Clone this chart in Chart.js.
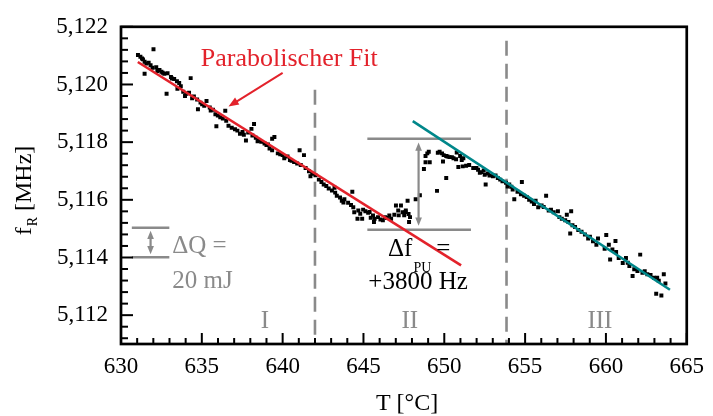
<!DOCTYPE html>
<html>
<head>
<meta charset="utf-8">
<script src="https://cdn.jsdelivr.net/npm/chart.js@4.4.1/dist/chart.umd.min.js"></script>
<style>
  html, body { margin: 0; padding: 0; background: #fff; }
</style>
</head>
<body>
<canvas id="resChart" width="713" height="416"></canvas>
<script>
// axis ticks
const xTicks = [630, 635, 640, 645, 650, 655, 660, 665];
const yTicks = [5.112, 5.114, 5.116, 5.118, 5.120, 5.122];

// measured points, region I (T < 642 °C)
const T1 = [631.20, 631.36, 631.46, 631.57, 631.71, 632.01, 631.46, 631.83, 632.18, 632.38,
  632.58, 632.68, 632.88, 633.09, 633.29, 633.46, 633.60, 634.31, 632.82, 633.49,
  633.70, 633.96, 634.21, 634.51, 634.71, 634.92, 634.76, 635.02, 635.29, 635.49,
  635.69, 635.84, 635.99, 635.90, 636.14, 636.45, 636.51, 636.65, 637.20, 637.36,
  637.52, 637.73, 637.87, 638.07, 638.23, 638.13, 638.34, 638.54, 638.68, 638.88,
  639.09, 639.35, 639.49, 639.19, 639.35, 639.70, 640.00, 640.10, 640.30, 640.45,
  640.71, 641.05, 641.32, 641.12, 641.42, 641.63, 641.83, 641.72,
  631.05, 631.30, 631.95, 632.25, 632.50, 633.15, 633.85, 634.05, 634.40, 635.15,
  635.55, 636.30, 636.85, 637.05, 637.60, 638.45, 639.00, 639.85, 640.55, 640.90];
const F1 = [5.12096, 5.12087, 5.12079, 5.12073, 5.12075, 5.12122, 5.12037, 5.12067, 5.12060, 5.12050,
  5.12041, 5.12037, 5.12039, 5.12026, 5.12019, 5.12011, 5.12005, 5.12022, 5.11968, 5.11985,
  5.11994, 5.11960, 5.11971, 5.11958, 5.11948, 5.11937, 5.11914, 5.11931, 5.11943, 5.11920,
  5.11912, 5.11897, 5.11892, 5.11855, 5.11886, 5.11909, 5.11874, 5.11857, 5.11840, 5.11829,
  5.11835, 5.11806, 5.11833, 5.11846, 5.11863, 5.11823, 5.11815, 5.11806, 5.11801, 5.11795,
  5.11792, 5.11812, 5.11818, 5.11778, 5.11772, 5.11761, 5.11755, 5.11744, 5.11750, 5.11738,
  5.11731, 5.11772, 5.11755, 5.11721, 5.11710, 5.11699, 5.11690, 5.11682,
  5.12102, 5.12090, 5.12058, 5.12047, 5.12044, 5.12021, 5.11975, 5.11968, 5.11952, 5.11926,
  5.11910, 5.11882, 5.11850, 5.11845, 5.11826, 5.11803, 5.11790, 5.11758, 5.11735, 5.11726];

// region II (642 - 654 °C), incl. the jump
const T2 = [642.03, 642.24, 642.40, 642.54, 642.85, 643.21, 643.25, 643.35, 643.55, 643.66,
  643.82, 643.76, 644.31, 644.23, 644.37, 644.43, 644.68, 644.63, 644.92, 644.98,
  645.12, 645.29, 645.38, 645.59, 645.69, 645.65, 645.90, 646.20, 646.34, 646.60,
  646.71, 646.91, 647.01, 647.15, 647.32, 647.42, 647.62, 647.73, 647.79, 647.88,
  647.82, 647.52, 647.18, 648.23, 648.49, 649.55, 650.12, 648.74, 648.84, 648.95,
  648.84, 649.10, 649.04, 649.71, 649.86, 649.96, 650.12, 650.32, 650.47, 650.57,
  650.77, 650.73, 650.98, 651.08, 651.18, 649.92, 650.87, 651.14, 651.54, 651.79,
  651.99, 652.09, 652.30, 652.44, 652.50, 652.70, 652.80, 653.01, 652.56, 653.17,
  653.31, 653.46, 653.82, 653.92,
  642.70, 643.05, 644.05, 644.80, 645.45, 646.05, 646.45, 647.60, 649.60, 650.20,
  651.35, 652.20, 653.60];
const F2 = [5.11685, 5.11670, 5.11662, 5.11653, 5.11639, 5.11642, 5.11625, 5.11614, 5.11608, 5.11597,
  5.11602, 5.11591, 5.11628, 5.11582, 5.11574, 5.11557, 5.11563, 5.11534, 5.11534, 5.11566,
  5.11560, 5.11555, 5.11558, 5.11546, 5.11534, 5.11523, 5.11540, 5.11529, 5.11540, 5.11546,
  5.11534, 5.11548, 5.11580, 5.11563, 5.11580, 5.11557, 5.11563, 5.11597, 5.11551, 5.11540,
  5.11523, 5.11546, 5.11546, 5.11602, 5.11616, 5.11631, 5.11676, 5.11707, 5.11752, 5.11761,
  5.11730, 5.11730, 5.11767, 5.11767, 5.11761, 5.11755, 5.11752, 5.11748, 5.11748, 5.11744,
  5.11764, 5.11741, 5.11752, 5.11738, 5.11744, 5.11733, 5.11714, 5.11716, 5.11721, 5.11710,
  5.11710, 5.11704, 5.11696, 5.11702, 5.11687, 5.11691, 5.11684, 5.11682, 5.11653, 5.11684,
  5.11676, 5.11670, 5.11659, 5.11646,
  5.11648, 5.11632, 5.11590, 5.11552, 5.11538, 5.11532, 5.11537, 5.11558, 5.11763, 5.11750,
  5.11718, 5.11694, 5.11664];

// region III (T > 654 °C)
const T3 = [654.02, 654.23, 654.80, 654.33, 654.53, 654.74, 654.94, 655.41, 655.55, 655.65,
  655.81, 656.02, 656.30, 656.46, 656.77, 657.03, 657.12, 657.27, 657.48, 657.58,
  657.85, 657.68, 657.93, 658.09, 657.79, 658.29, 658.49, 658.70, 659.01, 659.41,
  659.51, 660.02, 660.18, 659.92, 660.59, 660.63, 660.26, 660.79, 661.04, 661.24,
  661.45, 661.65, 661.75, 661.95, 662.12, 662.26, 662.56, 662.76, 662.97, 663.17,
  663.27, 663.58, 663.68, 663.11, 663.43,
  654.15, 655.10, 655.25, 656.15, 656.60, 658.90, 659.20, 660.40, 661.35, 662.40];
const F3 = [5.11653, 5.11636, 5.11662, 5.11602, 5.11628, 5.11619, 5.11614, 5.11594, 5.11585, 5.11597,
  5.11574, 5.11580, 5.11614, 5.11563, 5.11557, 5.11560, 5.11540, 5.11534, 5.11529, 5.11548,
  5.11560, 5.11523, 5.11512, 5.11506, 5.11483, 5.11495, 5.11489, 5.11480, 5.11472, 5.11444,
  5.11466, 5.11478, 5.11444, 5.11430, 5.11457, 5.11419, 5.11393, 5.11398, 5.11381, 5.11398,
  5.11370, 5.11336, 5.11359, 5.11353, 5.11410, 5.11347, 5.11342, 5.11339, 5.11330, 5.11330,
  5.11319, 5.11342, 5.11310, 5.11274, 5.11268,
  5.11645, 5.11610, 5.11600, 5.11575, 5.11566, 5.11466, 5.11456, 5.11428, 5.11382, 5.11352];

// fits
const fitRedT = [631.04, 651.04];
const fitRedF = [5.12078, 5.11373];
const fitTealT = [648.05, 663.96];
const fitTealF = [5.11873, 5.11288];

// region borders
const borderT = [642, 653.85];
const borderTopF = [5.11982, 5.12152];

// delta f / delta Q markers
const dfT = [645.24, 651.65];
const dfF = [5.11812, 5.11496];
const dQT = [630.67, 632.99];
const dQF = [5.11503, 5.11401];

const RED = '#e3222b', TEAL = '#00878a', GRAY = '#8a8a8a';
const SERIF = '"Liberation Serif", serif';

function pts(xs, ys) { return xs.map((v, i) => ({ x: v, y: ys[i] })); }
function lineDs(data, color, width, dash) {
  return { data, showLine: true, pointRadius: 0, borderColor: color, borderWidth: width,
    borderDash: dash || [], fill: false };
}

const datasets = [
  lineDs(pts(fitRedT, fitRedF), RED, 2.6),
  lineDs(pts(fitTealT, fitTealF), TEAL, 2.6),
  { data: [...pts(T1, F1), ...pts(T2, F2), ...pts(T3, F3)], pointStyle: 'rect', pointRadius: 2.8,
    backgroundColor: '#000', borderWidth: 0, showLine: false },
  lineDs([{ x: borderT[0], y: borderTopF[0] }, { x: borderT[0], y: 5.111 }], GRAY, 2.6, [15, 8]),
  lineDs([{ x: borderT[1], y: borderTopF[1] }, { x: borderT[1], y: 5.111 }], GRAY, 2.6, [15, 8]),
  lineDs([{ x: dfT[0], y: dfF[0] }, { x: dfT[1], y: dfF[0] }], GRAY, 2.4),
  lineDs([{ x: dfT[0], y: dfF[1] }, { x: dfT[1], y: dfF[1] }], GRAY, 2.4),
  lineDs([{ x: dQT[0], y: dQF[0] }, { x: dQT[1], y: dQF[0] }], GRAY, 2.4),
  lineDs([{ x: dQT[0], y: dQF[1] }, { x: dQT[1], y: dQF[1] }], GRAY, 2.4)
];

function head(ctx, x0, y0, x1, y1, size) {
  const ang = Math.atan2(y1 - y0, x1 - x0);
  ctx.beginPath();
  ctx.moveTo(x1, y1);
  ctx.lineTo(x1 - size * Math.cos(ang - 0.38), y1 - size * Math.sin(ang - 0.38));
  ctx.lineTo(x1 - size * Math.cos(ang + 0.38), y1 - size * Math.sin(ang + 0.38));
  ctx.closePath();
  ctx.fill();
}

function drawText(ctx, s, x, y, size, color, align) {
  ctx.font = size + 'px ' + SERIF;
  ctx.fillStyle = color;
  ctx.textAlign = align || 'left';
  ctx.textBaseline = 'alphabetic';
  ctx.fillText(s, x, y);
  return ctx.measureText(s).width;
}

const decor = {
  id: 'decor',
  afterDatasetsDraw(chart) {
    const { ctx, chartArea: a, scales: { x, y } } = chart;
    const px = v => x.getPixelForValue(v), py = v => y.getPixelForValue(v);
    ctx.save();

    // frame + inward ticks
    ctx.strokeStyle = '#000';
    ctx.lineWidth = 2;
    for (let i = 0; i <= 35; i++) {
      const X = px(630 + i);
      ctx.beginPath(); ctx.moveTo(X, a.bottom); ctx.lineTo(X, a.bottom - (i % 5 === 0 ? 11 : 6)); ctx.stroke();
    }
    for (let i = 0; i <= 27; i++) {
      const Y = py(5.1112 + i * 0.0004);
      ctx.beginPath(); ctx.moveTo(a.left, Y); ctx.lineTo(a.left + (i % 5 === 2 ? 12 : 7), Y); ctx.stroke();
    }
    ctx.lineWidth = 2.7;
    ctx.strokeRect(a.left, a.top, a.right - a.left, a.bottom - a.top);

    // Parabolischer Fit label + arrow
    drawText(ctx, 'Parabolischer Fit', px(634.94), py(5.12064), 26, RED);
    ctx.strokeStyle = RED; ctx.fillStyle = RED; ctx.lineWidth = 2;
    const x0 = px(640.0), y0 = py(5.1204), x1 = px(636.65), y1 = py(5.11924);
    ctx.beginPath(); ctx.moveTo(x0, y0); ctx.lineTo(x1 + 6, y1 - 3.6); ctx.stroke();
    head(ctx, x0, y0, x1, y1, 11);

    // double arrows
    ctx.strokeStyle = GRAY; ctx.fillStyle = GRAY; ctx.lineWidth = 2.2;
    const dbl = (t, fTop, fBot) => {
      const X = px(t), Yt = py(fTop), Yb = py(fBot);
      ctx.beginPath(); ctx.moveTo(X, Yt + 6); ctx.lineTo(X, Yb - 6); ctx.stroke();
      head(ctx, X, Yb, X, Yt, 9);
      head(ctx, X, Yt, X, Yb, 9);
    };
    dbl(648.41, 5.11799, 5.11510);
    dbl(631.83, 5.11493, 5.11411);

    // ΔQ label
    drawText(ctx, 'ΔQ =', px(633.17), py(5.11414), 25, GRAY);
    drawText(ctx, '20 mJ', px(633.17), py(5.11295), 25, GRAY);

    // Δf_PU label
    const xs = px(646.52), yb = py(5.11404);
    const w = drawText(ctx, 'Δf', xs, yb, 25, '#000');
    drawText(ctx, 'PU', xs + w + 1, yb + 16, 14, '#000');
    drawText(ctx, '=', px(649.5), yb, 25, '#000');
    drawText(ctx, '+3800 Hz', px(645.30), py(5.11292), 25, '#000');

    // region labels
    drawText(ctx, 'I', px(638.9), py(5.11156), 25, GRAY, 'center');
    drawText(ctx, 'II', px(647.87), py(5.11156), 25, GRAY, 'center');
    drawText(ctx, 'III', px(659.63), py(5.11156), 25, GRAY, 'center');

    // axis titles
    drawText(ctx, 'T [°C]', 407, 410, 24, '#000', 'center');
    ctx.translate(31, 191);
    ctx.rotate(-Math.PI / 2);
    ctx.font = '24px ' + SERIF;
    const wf = ctx.measureText('f').width, wm = ctx.measureText(' [MHz]').width;
    ctx.font = '14px ' + SERIF;
    const wr = ctx.measureText('R').width;
    const s0 = -(wf + wr + wm) / 2;
    drawText(ctx, 'f', s0, 0, 24, '#000');
    drawText(ctx, 'R', s0 + wf + 1, 6, 14, '#000');
    drawText(ctx, ' [MHz]', s0 + wf + wr + 1, 0, 24, '#000');
    ctx.restore();
  }
};

new Chart(document.getElementById('resChart'), {
  type: 'scatter',
  data: { datasets },
  options: {
    responsive: false,
    animation: false,
    devicePixelRatio: 1,
    layout: { padding: { top: 21, right: 18, left: 0, bottom: 0 } },
    plugins: { legend: { display: false }, tooltip: { enabled: false } },
    scales: {
      x: {
        type: 'linear', min: 630, max: 665,
        afterBuildTicks: s => { s.ticks = xTicks.map(v => ({ value: v })); },
        afterFit: s => { s.height = 72; },
        grid: { display: false, drawTicks: false },
        border: { display: false },
        ticks: { padding: 9, color: '#000', font: { family: SERIF, size: 23 }, maxRotation: 0,
          callback: v => String(v) }
      },
      y: {
        type: 'linear', min: 5.111, max: 5.122,
        afterBuildTicks: s => { s.ticks = yTicks.map(v => ({ value: v })); },
        afterFit: s => { s.width = 121; },
        grid: { display: false, drawTicks: false },
        border: { display: false },
        ticks: { padding: 13, color: '#000', font: { family: SERIF, size: 23 },
          callback: v => v.toFixed(3).replace('.', ',') }
      }
    }
  },
  plugins: [decor]
});
</script>
</body>
</html>
